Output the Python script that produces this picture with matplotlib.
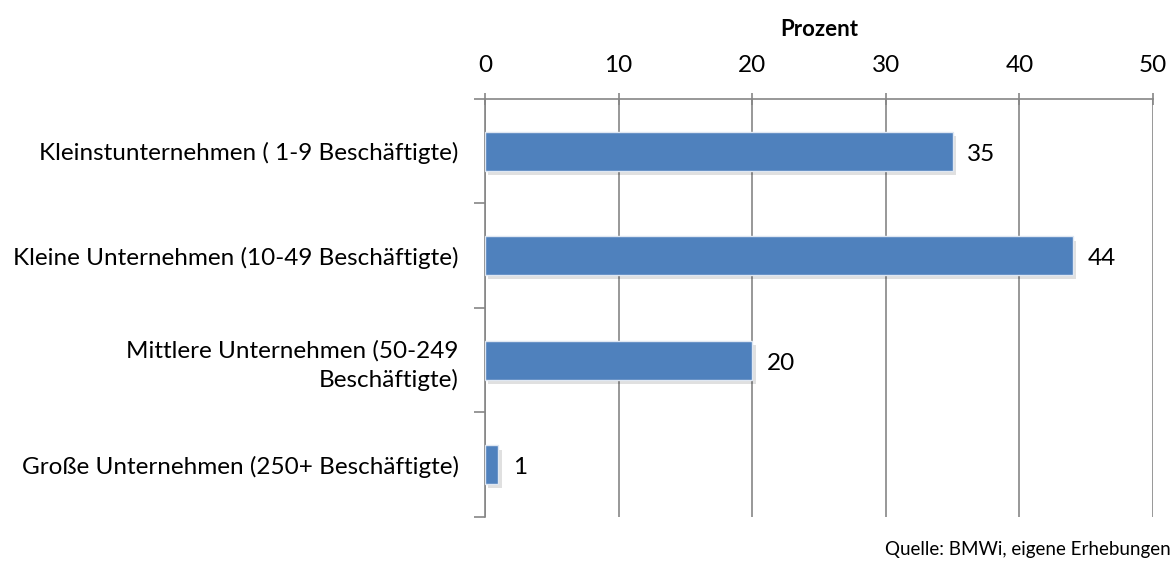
import numpy as np
import matplotlib.pyplot as plt

# Daten
kategorien = [
    "Kleinstunternehmen ( 1-9 Beschäftigte)",
    "Kleine Unternehmen (10-49 Beschäftigte)",
    "Mittlere Unternehmen (50-249\nBeschäftigte)",
    "Große Unternehmen (250+ Beschäftigte)",
]
werte = [35, 44, 20, 1]
x_ticks = [0, 10, 20, 30, 40, 50]

plt.rcParams['font.family'] = ['Lato', 'DejaVu Sans']

fig = plt.figure(figsize=(11.74, 5.63), dpi=100)
ax = fig.add_axes([0.4131, 0.0817, 0.569, 0.7425])

grau = "#868686"
blau = "#4F81BD"

y = np.arange(len(werte))
# Schatten
ax.barh(y + 0.04, werte, height=0.37, left=0.25, color="#000000", alpha=0.12, zorder=2)
ax.barh(y, werte, height=0.37, color=blau, edgecolor="#dfe7f2", linewidth=1.0, zorder=3)

for yi, w in zip(y, werte):
    ax.text(w + 1.1, yi + 0.03, str(w), va="center", ha="left", fontsize=17.5, zorder=4)

ax.set_xlim(0, 50)
ax.set_ylim(len(werte) - 0.5, -0.5)
ax.xaxis.tick_top()
ax.xaxis.set_label_position("top")
ax.set_xticks(x_ticks)
ax.set_xticklabels([str(t) for t in x_ticks], fontsize=17.5)
ax.set_xlabel("Prozent", fontsize=16, fontweight="bold", labelpad=14)
ax.tick_params(axis="x", direction="inout", length=9, color=grau, width=1.2, pad=12)

ax.set_yticks(y)
ax.set_yticklabels(kategorien, fontsize=17.5, linespacing=1.4)
ax.tick_params(axis="y", length=0, pad=19)
# Trennmarken zwischen Kategorien
ax.set_yticks(np.arange(len(werte) + 1) - 0.5, minor=True)
ax.tick_params(axis="y", which="minor", length=8, color=grau, width=1.2)

ax.grid(axis="x", color=grau, linewidth=1.2, zorder=1)
for s in ["right", "bottom"]:
    ax.spines[s].set_visible(False)
for s in ["left", "top"]:
    ax.spines[s].set_color(grau)
    ax.spines[s].set_linewidth(1.2)

fig.text(0.997, 0.008, "Quelle: BMWi, eigene Erhebungen", ha="right", va="bottom", fontsize=13.5)

fig.savefig("out.png", dpi=100)
